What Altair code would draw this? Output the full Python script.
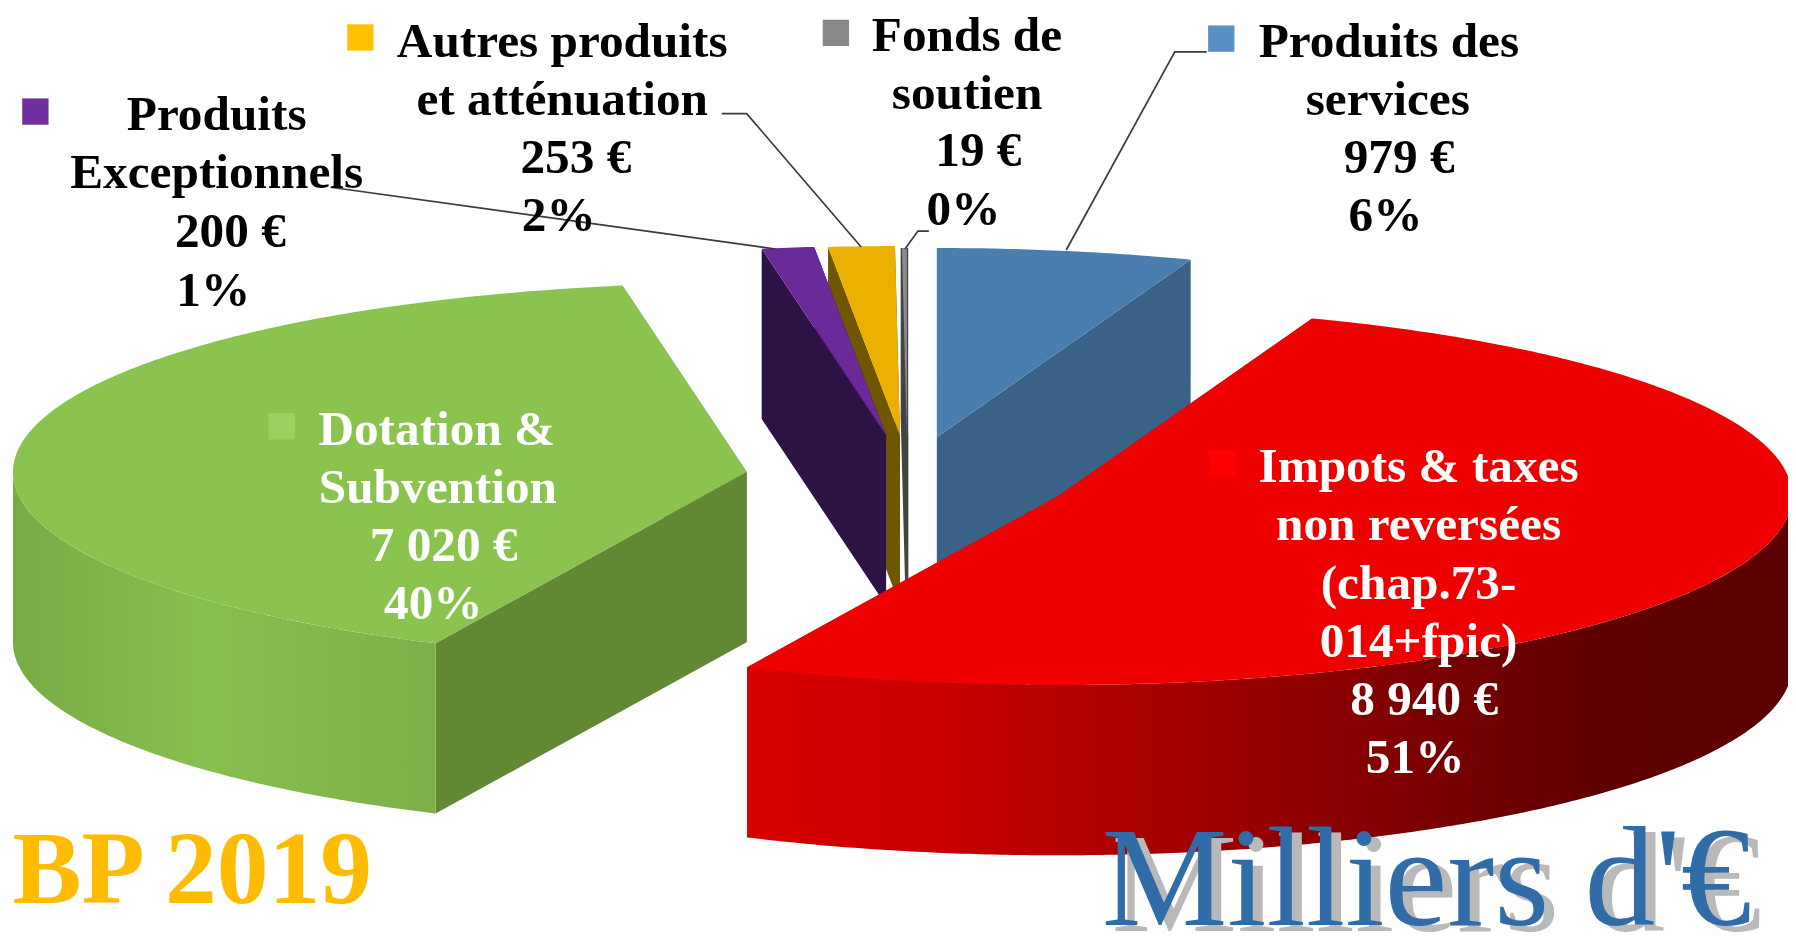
import math
import altair as alt

# ---- data ----
names = ["Produits des services", "Impots & taxes", "Dotation & Subvention",
         "Produits Exceptionnels", "Autres produits", "Fonds de soutien"]
values = [979, 8940, 7020, 200, 253, 19]

# ---- styles / layout (full image pixels) ----
A, B, DEPTH = 737, 190, 171
W, H = 1796, 936
apex = [(941, 437), (1063, 496), (750, 472), (890, 435), (904, 435), (911, 437)]
top_col = ["#4a7eaf", "#ee0000", "#8bc34f", "#6a2a9a", "#ecb000", "#8c8c8c"]
wall_col = ["#3a6287", "#cc0000", "#618933", "#2d1245", "#6f5600", "#444444"]
DRAW_ORDER = [0, 5, 4, 3, 2, 1]


def gradient(stops):
    return alt.LinearGradient(
        gradient="linear", x1=0, x2=1, y1=0, y2=0,
        stops=[alt.GradientStop(offset=o, color=c) for o, c in stops])


side_fill = {
    1: gradient([(0, "#d80000"), (0.18, "#c80000"), (0.4, "#a60000"), (0.62, "#800000"), (0.82, "#5e0000"), (1, "#5c0000")]),
    2: gradient([(0, "#76ab45"), (0.45, "#86c04e"), (1, "#7bb048")]),
}

total = sum(values)
angles = []
acc = 0.0
for v in values:
    angles.append((acc, acc + 360.0 * v / total))
    acc += 360.0 * v / total


def pt(c, t, dz=0):
    r = math.radians(t)
    return [c[0] + A * math.sin(r), c[1] - B * math.cos(r) + dz]


def feature(points):
    ring = [list(p) for p in points] + [list(points[0])]
    return {"type": "Feature", "properties": {}, "geometry": {"type": "Polygon", "coordinates": [ring]}}


def steps(t0, t1, d=0.5):
    n = max(2, int((t1 - t0) / d) + 1)
    return [t0 + (t1 - t0) * k / (n - 1) for k in range(n)]


def shape(feat, **kw):
    return alt.Chart(alt.Data(values=[feat])).mark_geoshape(**kw).project(
        type="identity", scale=1, translate=[-8, -8])


layers = []
for i in DRAW_ORDER:
    c = apex[i]
    t0, t1 = angles[i]
    sw = 2.5 if i == 5 else 0
    # radial walls
    for t in (t1, t0):
        p = pt(c, t)
        wall = [c, p, [p[0], p[1] + DEPTH], [c[0], c[1] + DEPTH]]
        layers.append(shape(feature(wall), fill=wall_col[i], stroke=wall_col[i], strokeWidth=sw))
    # outer wall (front half of the rim only)
    a0, a1 = max(t0, 90), min(t1, 270)
    if a1 > a0:
        ts = steps(a0, a1)
        rim = [pt(c, t) for t in ts] + [pt(c, t, DEPTH) for t in reversed(ts)]
        layers.append(shape(feature(rim), fill=side_fill.get(i, wall_col[i]), strokeWidth=0))
    # top face
    face = [c] + [pt(c, t) for t in steps(t0, t1)]
    layers.append(shape(feature(face), fill=top_col[i], strokeWidth=0))

S = W / 1568.0
BLACK, WHITE = "#000000", "#ffffff"
label_rows = [
    # text, x, y, colour  (coordinates read from the 1568-wide view)
    ("Produits des", 1218, 35, BLACK), ("services", 1217, 86, BLACK), ("979 €", 1227, 137, BLACK), ("6%", 1215, 188, BLACK),
    ("Fonds de", 848, 30, BLACK), ("soutien", 848, 81, BLACK), ("19 €", 858, 131, BLACK), ("0%", 845, 182, BLACK),
    ("Autres produits", 493, 35, BLACK), ("et atténuation", 493, 86, BLACK), ("253 €", 505, 137, BLACK), ("2%", 490, 188, BLACK),
    ("Produits", 190, 99, BLACK), ("Exceptionnels", 190, 150, BLACK), ("200 €", 202, 202, BLACK), ("1%", 187, 253, BLACK),
    ("Dotation &", 383, 375, WHITE), ("Subvention", 384, 426, WHITE), ("7 020 €", 389, 477, WHITE), ("40%", 380, 528, WHITE),
    ("Impots & taxes", 1244, 408, WHITE), ("non reversées", 1244, 459, WHITE), ("(chap.73-", 1244, 510, WHITE),
    ("014+fpic)", 1244, 561, WHITE), ("8 940 €", 1249, 612, WHITE), ("51%", 1241, 663, WHITE),
]
labels = [{"t": t, "x": x * S, "y": y * S, "c": c} for t, x, y, c in label_rows]

sq_rows = [(1071, 32, "#5a8fc4"), (733, 27, "#888888"), (316, 31, "#ffc000"), (31, 96, "#7030a0"),
           (247, 372, "#9bd25f"), (1072, 405, "#ff0000")]
squares = [{"x": x * S, "y": y * S, "c": c} for x, y, c in sq_rows]

leader_paths = [
    [(332, 186), (779, 248)],
    [(725, 112), (750, 112), (865, 246)],
    [(933, 230), (922, 230), (909, 248)],
    [(1212, 50), (1180, 50), (1071, 249)],
]
leaders = [{"g": g, "o": k, "x": x, "y": y}
           for g, path in enumerate(leader_paths) for k, (x, y) in enumerate(path)]

xs = alt.Scale(domain=[8, W], range=[0, W - 8], zero=False, nice=False)
ys = alt.Scale(domain=[8, H], range=[0, H - 8], zero=False, nice=False)


def X(f="x"):
    return alt.X(f"{f}:Q", scale=xs, axis=None)


def Y(f="y"):
    return alt.Y(f"{f}:Q", scale=ys, axis=None)


layers.append(alt.Chart(alt.Data(values=leaders)).mark_line(color="#3a3a3a", strokeWidth=1.7).encode(
    x=X(), y=Y(), detail="g:N", order="o:Q"))
layers.append(alt.Chart(alt.Data(values=squares)).mark_square(size=700, opacity=1, filled=True).encode(
    x=X(), y=Y(), color=alt.Color("c:N", scale=None)))
layers.append(alt.Chart(alt.Data(values=labels)).mark_text(
    font="Liberation Serif", fontWeight="bold", fontSize=49.5, align="center", baseline="middle").encode(
    x=X(), y=Y(), text="t:N", color=alt.Color("c:N", scale=None)))

big = [{"t": "BP 2019", "x": 193, "y": 790 * S}]
layers.append(alt.Chart(alt.Data(values=big)).mark_text(
    font="Liberation Serif", fontWeight="bold", fontSize=104, align="center", baseline="alphabetic", color="#ffbb00").encode(
    x=X(), y=Y(), text="t:N"))
mil = [{"t": "Milliers d'€", "x": 1251 * S, "y": 809 * S}]
layers.append(alt.Chart(alt.Data(values=mil)).mark_text(
    font="Liberation Serif", fontSize=142, align="center", baseline="alphabetic", color="#b9b9b9", dx=10, dy=6).encode(
    x=X(), y=Y(), text="t:N"))
layers.append(alt.Chart(alt.Data(values=mil)).mark_text(
    font="Liberation Serif", fontSize=142, align="center", baseline="alphabetic", color="#2f6ca8").encode(
    x=X(), y=Y(), text="t:N"))

chart = alt.layer(*layers).properties(
    width=W - 8, height=H - 8, padding=0, background="white",
    autosize=alt.AutoSizeParams(type="none"),
).configure_view(stroke=None)

chart.save("out.html", embed_options={"renderer": "svg", "actions": False})
